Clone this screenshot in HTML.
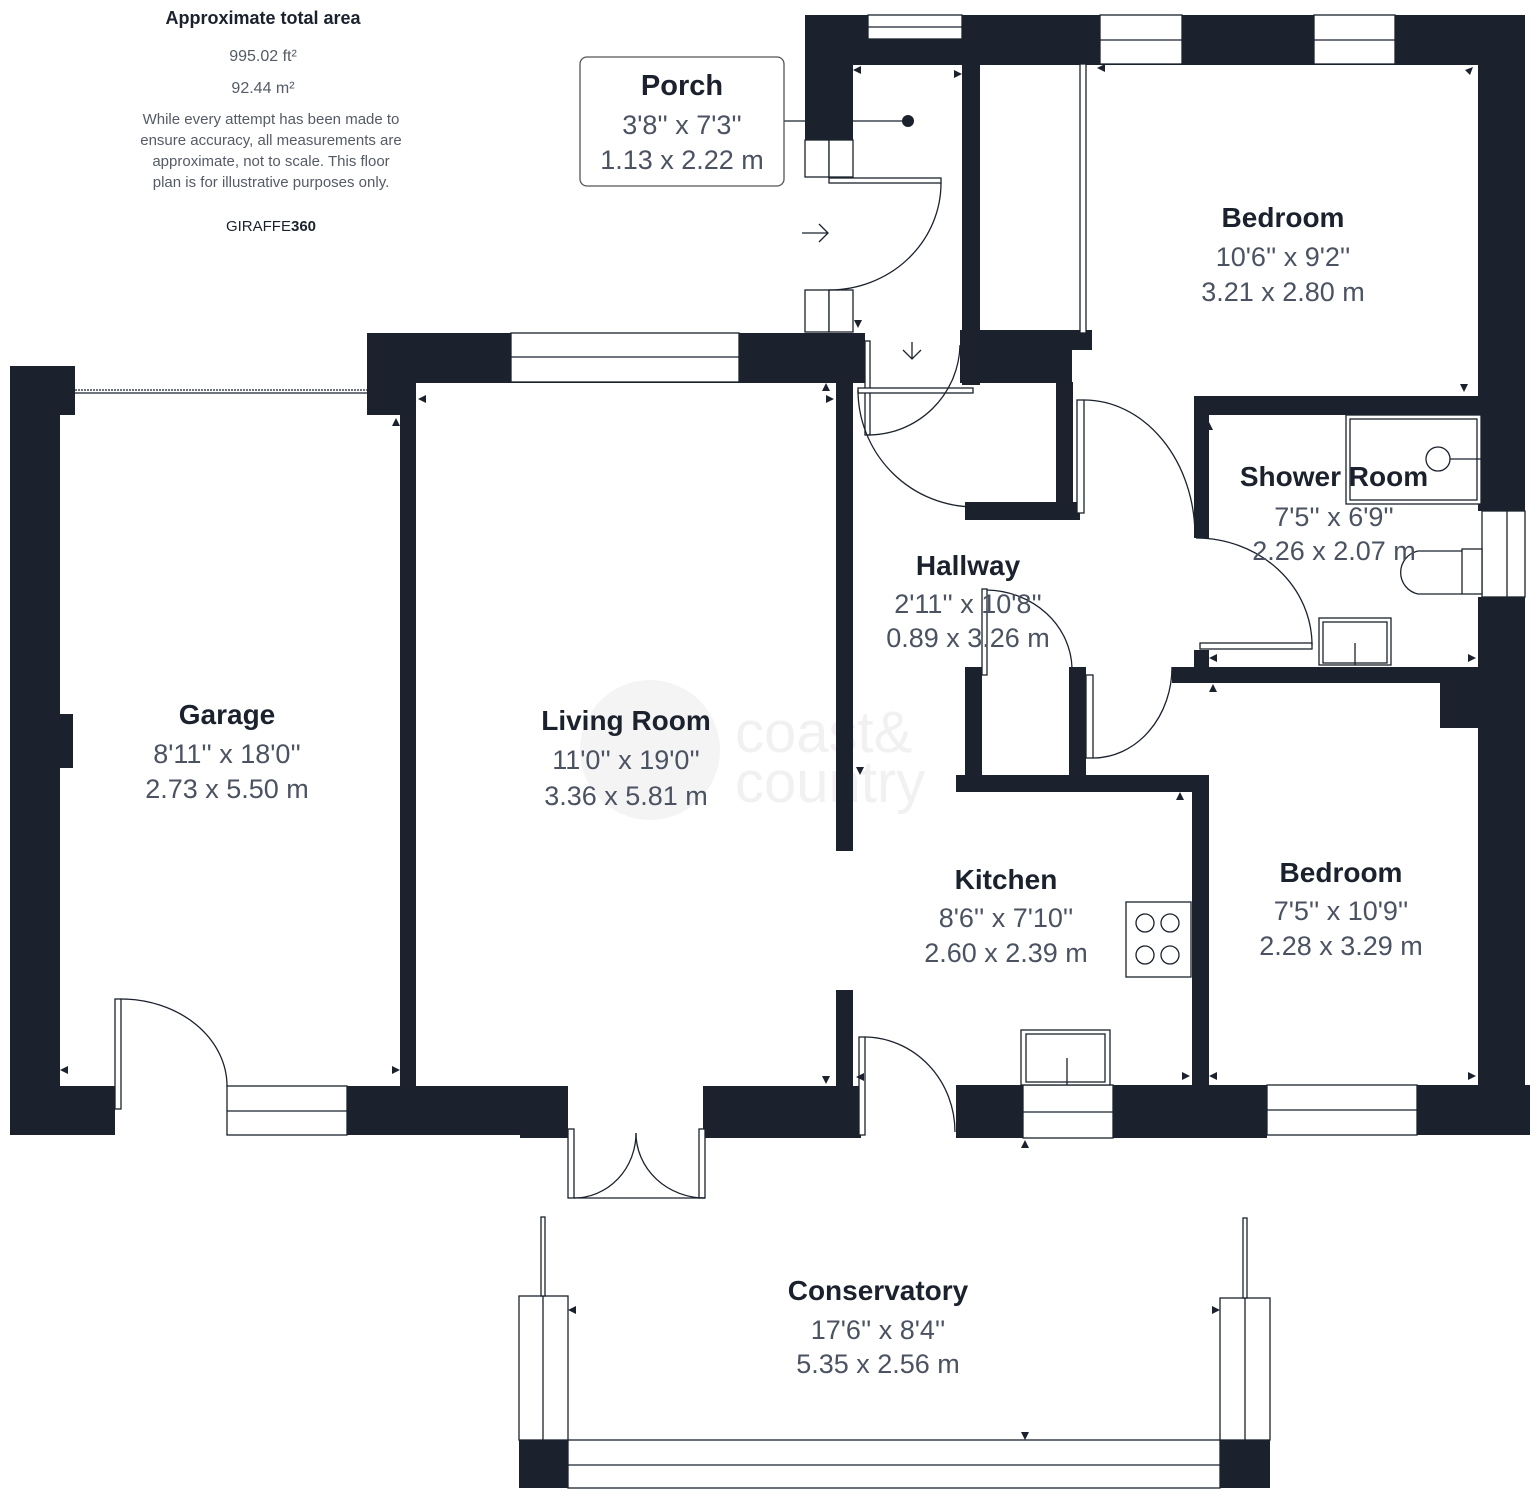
<!DOCTYPE html>
<html><head><meta charset="utf-8"><style>
html,body{margin:0;padding:0;background:#fff;}
svg{display:block}
.n{font-family:"Liberation Sans",sans-serif;font-weight:bold;font-size:28px;fill:#1b222d;text-anchor:middle}
.d{font-family:"Liberation Sans",sans-serif;font-size:27px;fill:#4b5261;text-anchor:middle}
.s{font-family:"Liberation Sans",sans-serif;font-size:15px;fill:#555b66;text-anchor:middle}
</style></head><body>
<svg width="1538" height="1496" viewBox="0 0 1538 1496" xmlns="http://www.w3.org/2000/svg">
<!-- watermark -->
<circle cx="650" cy="750" r="70" fill="#f4f4f5"/>
<text x="735" y="752" font-family="Liberation Sans,sans-serif" font-size="58" fill="#f1f1f2">coast&amp;</text>
<text x="735" y="802" font-family="Liberation Sans,sans-serif" font-size="58" fill="#f1f1f2">country</text>

<g fill="#1b222d">
<!-- top band -->
<rect x="805" y="15" width="720" height="50"/>
<!-- porch left -->
<rect x="805" y="15" width="48" height="125"/>
<!-- porch right / bedroom left -->
<rect x="962" y="15" width="18" height="370"/>
<!-- right outer wall -->
<rect x="1478" y="15" width="47" height="496"/>
<rect x="1478" y="597" width="47" height="538"/>
<!-- living top wall -->
<rect x="367" y="333" width="498" height="50"/>
<rect x="367" y="333" width="49" height="82"/>
<rect x="400" y="333" width="16" height="753"/>
<!-- hallway block top -->
<rect x="960" y="330" width="132" height="20"/>
<rect x="960" y="330" width="112" height="53"/>
<!-- hall cupboard -->
<rect x="1056" y="382" width="17" height="138"/>
<rect x="965" y="502" width="115" height="18"/>
<!-- living right wall -->
<rect x="836" y="382" width="17" height="469"/>
<rect x="836" y="990" width="17" height="96"/>
<!-- garage -->
<rect x="10" y="366" width="65" height="49"/>
<rect x="10" y="366" width="50" height="769"/>
<rect x="60" y="714" width="13" height="54"/>
<rect x="10" y="1086" width="105" height="49"/>
<rect x="347" y="1086" width="221" height="49"/>
<rect x="520" y="1086" width="48" height="52"/>
<rect x="703" y="1086" width="158" height="52"/>
<!-- shower room -->
<rect x="1194" y="396" width="288" height="19"/>
<rect x="1194" y="396" width="15" height="142"/>
<rect x="1194" y="650" width="15" height="20"/>
<rect x="1172" y="667" width="307" height="16"/>
<rect x="1440" y="683" width="39" height="45"/>
<!-- lower cupboard -->
<rect x="965" y="667" width="17" height="108"/>
<rect x="1069" y="667" width="17" height="108"/>
<rect x="956" y="775" width="253" height="17"/>
<rect x="1192" y="775" width="17" height="310"/>
<!-- bottom walls kitchen/bedroom -->
<rect x="956" y="1085" width="67" height="53"/>
<rect x="1113" y="1085" width="154" height="53"/>
<rect x="1417" y="1085" width="113" height="50"/>
<!-- conservatory -->
<rect x="519" y="1440" width="49" height="48"/>
<rect x="1220" y="1440" width="50" height="48"/>
</g>

<g fill="#fff" stroke="#1b222d" stroke-width="1.3">
<!-- windows -->
<rect x="868" y="15" width="94" height="24"/>
<line x1="868" y1="27" x2="962" y2="27"/>
<rect x="1100" y="15" width="82" height="49"/><line x1="1100" y1="40" x2="1182" y2="40"/>
<rect x="1314" y="15" width="81" height="49"/><line x1="1314" y1="40" x2="1395" y2="40"/>
<rect x="511" y="333" width="228" height="49"/><line x1="511" y1="357" x2="739" y2="357"/>
<rect x="227" y="1086" width="120" height="49"/><line x1="227" y1="1111" x2="347" y2="1111"/>
<rect x="1023" y="1085" width="90" height="53"/><line x1="1023" y1="1112" x2="1113" y2="1112"/>
<rect x="1267" y="1085" width="150" height="50"/><line x1="1267" y1="1110" x2="1417" y2="1110"/>
<rect x="1482" y="511" width="43" height="86"/><line x1="1507" y1="511" x2="1507" y2="597"/>
<rect x="568" y="1440" width="652" height="48"/><line x1="568" y1="1465" x2="1220" y2="1465"/>
<!-- porch boxes -->
<rect x="805" y="140" width="24" height="37"/><rect x="829" y="140" width="24" height="37"/>
<rect x="805" y="290" width="24" height="42"/><rect x="829" y="290" width="24" height="42"/>
<!-- conservatory posts -->
<rect x="519" y="1296" width="49" height="144"/><line x1="543" y1="1296" x2="543" y2="1440"/>
<rect x="1220" y="1298" width="50" height="142"/><line x1="1245" y1="1298" x2="1245" y2="1440"/>
<rect x="541" y="1217" width="4" height="79"/>
<rect x="1243" y="1218" width="4" height="80"/>
<!-- door leaves -->
<rect x="829" y="178" width="112" height="5"/>
<rect x="865" y="341" width="5" height="94"/>
<rect x="858" y="388" width="115" height="5"/>
<rect x="1077" y="400" width="7" height="113"/>
<rect x="1200" y="643" width="112" height="6"/>
<rect x="982" y="589" width="5" height="86"/>
<rect x="1086" y="675" width="7" height="83"/>
<rect x="115" y="999" width="6" height="110"/>
<rect x="859" y="1037" width="6" height="98"/>
<rect x="568" y="1129" width="6" height="69"/>
<rect x="699" y="1129" width="6" height="69"/>
<!-- wardrobe -->
<rect x="1080" y="64" width="6" height="269"/>
<!-- fixtures -->
<rect x="1346" y="415" width="135" height="89"/><rect x="1350" y="419" width="127" height="81"/>
<rect x="1319" y="618" width="72" height="47"/><rect x="1323" y="622" width="64" height="41"/>
<rect x="1462" y="549" width="20" height="45"/>
<rect x="1126" y="902" width="65" height="75"/>
<rect x="1021" y="1030" width="89" height="55"/><rect x="1026" y="1034" width="79" height="48"/>
</g>

<g fill="none" stroke="#1b222d" stroke-width="1.3">
<line x1="75" y1="390" x2="367" y2="390" stroke-dasharray="2 1"/>
<line x1="75" y1="393" x2="367" y2="393"/>
<path d="M941 183 A112 107 0 0 1 829 290"/>
<path d="M868 435 A92 92 0 0 0 960 345"/>
<path d="M858 390 A117 117 0 0 0 975 507"/>
<path d="M1084 400 A111 136 0 0 1 1195 536"/>
<path d="M1312 645 A116 107 0 0 0 1196 538"/>
<path d="M987 590 A87 80 0 0 1 1072 668"/>
<path d="M1093 758 A79 91 0 0 0 1172 667"/>
<path d="M121 999 A106 87 0 0 1 227 1086"/>
<path d="M865 1037 A91 95 0 0 1 955 1132"/>
<path d="M574 1198 A62 65 0 0 0 636 1133"/>
<path d="M705 1198 A69 65 0 0 1 636 1133"/>
<line x1="574" y1="1198" x2="705" y2="1198"/>
<circle cx="1438" cy="459" r="12"/><line x1="1450" y1="459" x2="1481" y2="459"/>
<path d="M1462 551 L1418 551 A22 22 0 0 0 1418 594 L1462 594"/>
<line x1="1355" y1="643" x2="1355" y2="665"/>
<line x1="1067" y1="1058" x2="1067" y2="1085"/>
<circle cx="1145" cy="923" r="9"/><circle cx="1170" cy="923" r="9"/>
<circle cx="1145" cy="955" r="9"/><circle cx="1170" cy="955" r="9"/>
<path d="M802 233 H828 M819 224 L828 233 L819 242"/>
<path d="M912 342 V359 M903 350 L912 359 L921 350"/>
<line x1="784" y1="121" x2="908" y2="121"/>
</g>
<circle cx="908" cy="121" r="6" fill="#1b222d"/>
<rect x="580" y="57" width="204" height="129" rx="7" fill="#fff" stroke="#555" stroke-width="1.3"/>

<!-- small dimension arrows -->
<g fill="#1b222d">
<path d="M1473 67 l-8 3 l5 5z"/><path d="M1097 68 l8 -4 v8z"/>
<path d="M1464 392 l-4 -8 h8z"/><path d="M1209 422 l-4 8 h8z"/>
<path d="M1476 658 l-8 -4 v8z"/><path d="M1209 658 l8 -4 v8z"/>
<path d="M1213 684 l-4 8 h8z"/><path d="M1180 792 l-4 8 h8z"/>
<path d="M1476 1076 l-8 -4 v8z"/><path d="M1209 1076 l8 -4 v8z"/>
<path d="M1190 1076 l-8 -4 v8z"/><path d="M1025 1140 l-4 8 h8z"/>
<path d="M1025 1440 l-4 -8 h8z"/><path d="M568 1310 l8 -4 v8z"/><path d="M1220 1310 l-8 -4 v8z"/>
<path d="M826 1084 l-4 -8 h8z"/><path d="M856 1077 l8 -4 v8z"/>
<path d="M60 1070 l8 -4 v8z"/><path d="M400 1070 l-8 -4 v8z"/>
<path d="M396 418 l-4 8 h8z"/><path d="M418 399 l8 -4 v8z"/>
<path d="M834 399 l-8 -4 v8z"/><path d="M826 383 l-4 8 h8z"/>
<path d="M860 775 l-4 -8 h8z"/><path d="M858 328 l-4 -8 h8z"/>
<path d="M853 70 l8 -4 v8z"/><path d="M962 74 l-8 -4 v8z"/>
</g>

<!-- header text -->
<text x="263" y="24" class="n" style="font-size:18px">Approximate total area</text>
<text x="263" y="61" class="s" style="font-size:16px">995.02 ft²</text>
<text x="263" y="93" class="s" style="font-size:16px">92.44 m²</text>
<text x="271" y="124" class="s">While every attempt has been made to</text>
<text x="271" y="145" class="s">ensure accuracy, all measurements are</text>
<text x="271" y="166" class="s">approximate, not to scale. This floor</text>
<text x="271" y="187" class="s">plan is for illustrative purposes only.</text>
<text x="271" y="231" class="s" style="fill:#1b222d">GIRAFFE<tspan font-weight="bold">360</tspan></text>

<!-- labels -->
<text x="682" y="95" class="n" style="font-size:29px">Porch</text>
<text x="682" y="134" class="d">3'8'' x 7'3''</text>
<text x="682" y="169" class="d">1.13 x 2.22 m</text>

<text x="1283" y="227" class="n">Bedroom</text>
<text x="1283" y="266" class="d">10'6'' x 9'2''</text>
<text x="1283" y="301" class="d">3.21 x 2.80 m</text>

<text x="1334" y="486" class="n">Shower Room</text>
<text x="1334" y="526" class="d">7'5'' x 6'9''</text>
<text x="1334" y="560" class="d">2.26 x 2.07 m</text>

<text x="968" y="575" class="n">Hallway</text>
<text x="968" y="613" class="d">2'11'' x 10'8''</text>
<text x="968" y="647" class="d">0.89 x 3.26 m</text>

<text x="227" y="724" class="n">Garage</text>
<text x="227" y="763" class="d">8'11'' x 18'0''</text>
<text x="227" y="798" class="d">2.73 x 5.50 m</text>

<text x="626" y="730" class="n">Living Room</text>
<text x="626" y="769" class="d">11'0'' x 19'0''</text>
<text x="626" y="805" class="d">3.36 x 5.81 m</text>

<text x="1006" y="889" class="n">Kitchen</text>
<text x="1006" y="927" class="d">8'6'' x 7'10''</text>
<text x="1006" y="962" class="d">2.60 x 2.39 m</text>

<text x="1341" y="882" class="n">Bedroom</text>
<text x="1341" y="920" class="d">7'5'' x 10'9''</text>
<text x="1341" y="955" class="d">2.28 x 3.29 m</text>

<text x="878" y="1300" class="n">Conservatory</text>
<text x="878" y="1339" class="d">17'6'' x 8'4''</text>
<text x="878" y="1373" class="d">5.35 x 2.56 m</text>
</svg>
</body></html>
